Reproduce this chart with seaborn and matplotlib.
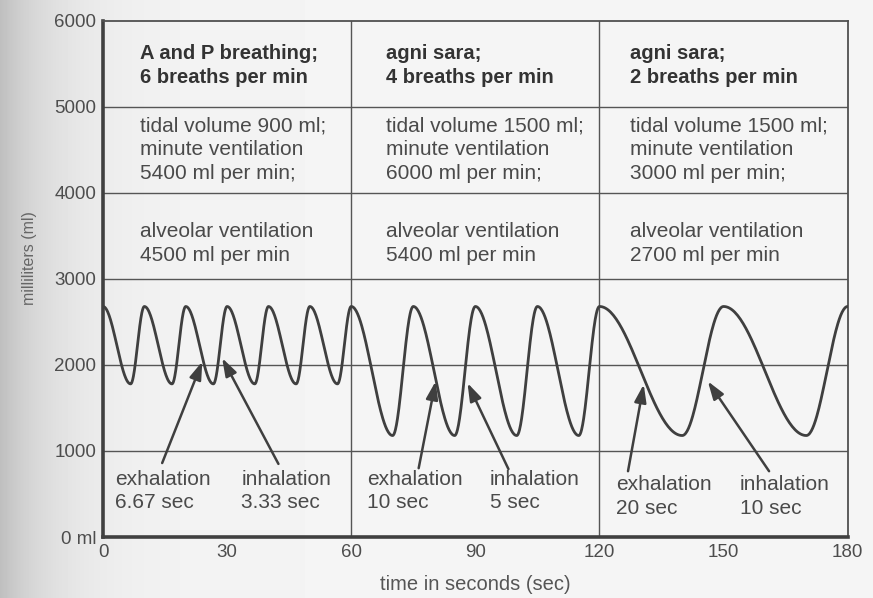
import numpy as np
import pandas as pd
import matplotlib
matplotlib.use("Agg")
import matplotlib.pyplot as plt
import seaborn as sns

# ---- data -------------------------------------------------------------
section_start = [0, 60, 120]          # s
section_end = [60, 120, 180]          # s
exhale_sec = [6.67, 10, 20]           # s, peak -> trough
inhale_sec = [3.33, 5, 10]            # s, trough -> peak
tidal_ml = [900, 1500, 1500]          # ml
peak_ml = 2680                        # ml, end of inhalation

headers = ["A and P breathing;\n6 breaths per min",
           "agni sara;\n4 breaths per min",
           "agni sara;\n2 breaths per min"]
volume_text = ["tidal volume 900 ml;\nminute ventilation\n5400 ml per min;",
               "tidal volume 1500 ml;\nminute ventilation\n6000 ml per min;",
               "tidal volume 1500 ml;\nminute ventilation\n3000 ml per min;"]
alveolar_text = ["alveolar ventilation\n4500 ml per min",
                 "alveolar ventilation\n5400 ml per min",
                 "alveolar ventilation\n2700 ml per min"]

# arrow tails (label end) and heads (on the curve), in (s, ml)
exh_tail = [(14.3, 860), (76.3, 800), (126.9, 765)]
exh_head = [(24.0, 2040), (80.4, 1810), (130.7, 1775)]
inh_tail = [(42.4, 850), (98.0, 790), (161.0, 765)]
inh_head = [(28.8, 2080), (88.1, 1790), (146.2, 1810)]

x_ticks = [0, 30, 60, 90, 120, 150, 180]
y_ticks = [0, 1000, 2000, 3000, 4000, 5000, 6000]
y_ticklabels = ["0 ml", "1000", "2000", "3000", "4000", "5000", "6000"]

# ---- breathing trace: half-cosine strokes between turning points -------
t_all, v_all = [], []
for s0, s1, te, ti, tv in zip(section_start, section_end,
                              exhale_sec, inhale_sec, tidal_ml):
    trough = peak_ml - tv
    t = s0
    while t < s1 - 1e-6:
        s = np.linspace(0, 1, 60)
        t_all.append(t + s * te)
        v_all.append(trough + tv * (1 + np.cos(np.pi * s)) / 2)
        t_all.append(t + te + s * ti)
        v_all.append(trough + tv * (1 - np.cos(np.pi * s)) / 2)
        t += te + ti
trace = pd.DataFrame({"time": np.concatenate(t_all),
                      "volume": np.concatenate(v_all)})

# ---- figure -----------------------------------------------------------
sns.set_theme(style="white")
plt.rcParams["font.family"] = ["Liberation Sans", "DejaVu Sans"]

ink = "#3f3f3f"
txt = "#4a4a4a"
fs = 15

fig = plt.figure(figsize=(8.73, 5.98), dpi=100)
fig.patch.set_facecolor("#f4f4f2")

# paper shading along the left edge
bg = fig.add_axes([0, 0, 1, 1], zorder=-10)
xs = np.linspace(0, 1, 873)
shade = 0.958 - 0.21 * np.exp(-xs / 0.065)
bg.imshow(np.tile(shade, (10, 1)), cmap="gray", vmin=0, vmax=1,
          aspect="auto", extent=[0, 1, 0, 1])
bg.axis("off")

ax = fig.add_axes([0.118, 0.102, 0.853, 0.863])
ax.set_facecolor("none")

for y in y_ticks[1:-1]:
    ax.axhline(y, color="#555555", lw=1.0, zorder=1)
for x in section_end[:-1]:
    ax.axvline(x, color="#555555", lw=1.0, zorder=1)

sns.lineplot(data=trace, x="time", y="volume", ax=ax, color=ink,
             lw=2.0, sort=False, estimator=None, zorder=3)

col_x = [9, 68.3, 127.3]
for cx, h, vt, at in zip(col_x, headers, volume_text, alveolar_text):
    ax.text(cx, 5480, h, fontsize=14.5, fontweight="bold", color="#333333",
            va="center", ha="left", linespacing=1.3)
    ax.text(cx, 4500, vt, fontsize=fs, color=txt,
            va="center", ha="left", linespacing=1.3)
    ax.text(cx, 3410, at, fontsize=fs, color=txt,
            va="center", ha="left", linespacing=1.3)

exh_x = [2.9, 63.9, 124.0]
inh_x = [33.4, 93.5, 154.0]
lab_y = [534, 534, 470]
for ex, ix, ly, te, ti in zip(exh_x, inh_x, lab_y, exhale_sec, inhale_sec):
    ax.text(ex, ly, f"exhalation\n{te:g} sec", fontsize=fs, color=txt,
            va="center", ha="left", linespacing=1.3)
    ax.text(ix, ly, f"inhalation\n{ti:g} sec", fontsize=fs, color=txt,
            va="center", ha="left", linespacing=1.3)

arrow = dict(arrowstyle="-|>,head_length=0.9,head_width=0.3",
             color=ink, lw=1.8, shrinkA=0, shrinkB=0)
for tail, head in zip(exh_tail + inh_tail, exh_head + inh_head):
    ax.annotate("", xy=head, xytext=tail, arrowprops=arrow, zorder=4)

ax.set_xlim(0, 180)
ax.set_ylim(0, 6000)
ax.set_xticks(x_ticks)
ax.set_yticks(y_ticks)
ax.set_yticklabels(y_ticklabels)
ax.tick_params(axis="both", length=0, labelsize=13.5, labelcolor="#4d4d4d",
               pad=5)
ax.set_xlabel("time in seconds (sec)", fontsize=14.5, color="#555555",
              labelpad=10)
ax.set_ylabel("milliliters (ml)", fontsize=11.5, color="#666666")
ax.yaxis.set_label_coords(-0.088, 0.54)

for side in ["left", "bottom"]:
    ax.spines[side].set_linewidth(2.6)
    ax.spines[side].set_color("#404040")
for side in ["top", "right"]:
    ax.spines[side].set_linewidth(1.3)
    ax.spines[side].set_color("#505050")

fig.savefig("out.png", dpi=100, facecolor=fig.get_facecolor())
